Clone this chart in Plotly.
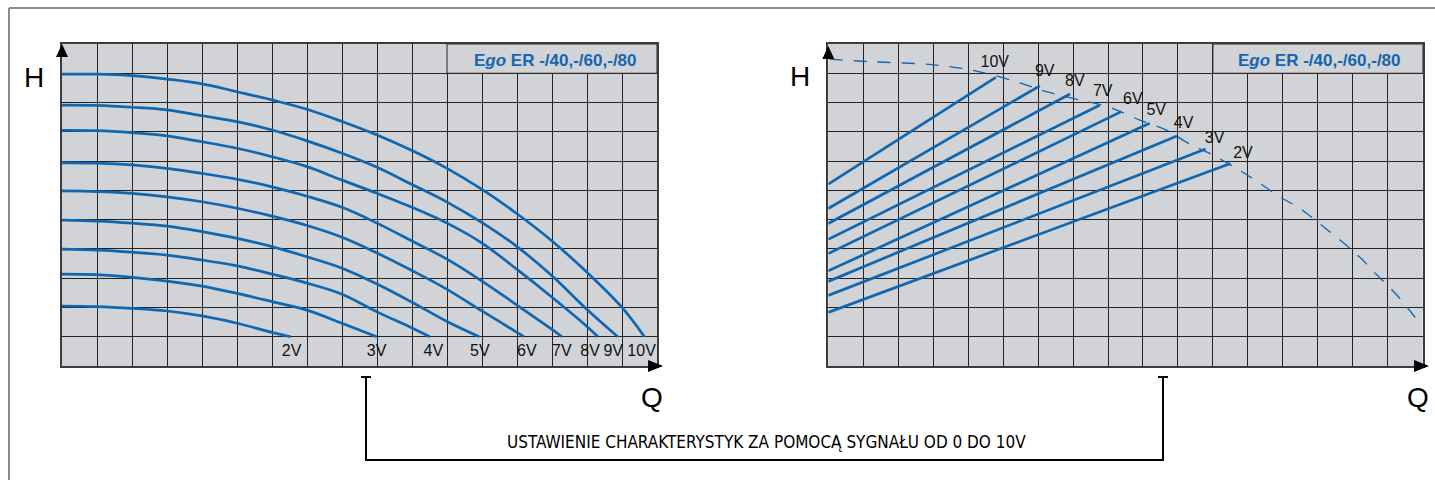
import plotly.graph_objects as go

W, H = 1435, 480

# ---------------- data (grid units: Q 0..17, H 0..11) ----------------
volt_labels = ["2V", "3V", "4V", "5V", "6V", "7V", "8V", "9V", "10V"]

# left panel: pump curves for each control voltage
left_q = {
    "2V": [0, 1, 2, 3, 4, 5, 6, 6.54],
    "3V": [0, 1, 2, 3, 4, 5, 6, 7, 8, 8.99],
    "4V": [0, 1, 2, 3, 4, 5, 6, 7, 8, 9, 10, 10.51],
    "5V": [0, 1, 2, 3, 4, 5, 6, 7, 8, 9, 10, 11, 11.92],
    "6V": [0, 1, 2, 3, 4, 5, 6, 7, 8, 9, 10, 11, 12, 13, 13.2],
    "7V": [0, 1, 2, 3, 4, 5, 6, 7, 8, 9, 10, 11, 12, 13, 14, 14.28],
    "8V": [0, 1, 2, 3, 4, 5, 6, 7, 8, 9, 10, 11, 12, 13, 14, 15, 15.31],
    "9V": [0, 1, 2, 3, 4, 5, 6, 7, 8, 9, 10, 11, 12, 13, 14, 15, 15.88],
    "10V": [0, 1, 2, 3, 4, 5, 6, 7, 8, 9, 10, 11, 12, 13, 14, 15, 16, 16.64],
}
left_h = {
    "2V": [2.05, 2.03, 1.97, 1.88, 1.71, 1.46, 1.15, 1.0],
    "3V": [3.14, 3.12, 3.03, 2.90, 2.73, 2.48, 2.20, 1.91, 1.46, 1.0],
    "4V": [3.99, 3.96, 3.89, 3.79, 3.62, 3.42, 3.14, 2.83, 2.45, 1.85, 1.30, 1.0],
    "5V": [4.98, 4.95, 4.88, 4.78, 4.59, 4.36, 4.08, 3.73, 3.34, 2.80, 2.18, 1.52, 1.0],
    "6V": [5.98, 5.96, 5.90, 5.78, 5.61, 5.39, 5.12, 4.80, 4.40, 3.86, 3.26, 2.62, 1.88, 1.15, 1.0],
    "7V": [6.94, 6.93, 6.87, 6.75, 6.58, 6.38, 6.12, 5.80, 5.42, 4.88, 4.27, 3.65, 2.90, 2.08, 1.25, 1.0],
    "8V": [8.05, 8.04, 7.97, 7.86, 7.66, 7.44, 7.15, 6.81, 6.35, 5.90, 5.42, 4.88, 4.20, 3.30, 2.35, 1.35, 1.0],
    "9V": [8.91, 8.90, 8.84, 8.75, 8.55, 8.35, 8.06, 7.69, 7.27, 6.79, 6.20, 5.60, 4.90, 4.08, 3.08, 1.93, 1.0],
    "10V": [9.97, 9.97, 9.92, 9.80, 9.64, 9.37, 9.09, 8.77, 8.35, 7.89, 7.36, 6.75, 6.03, 5.20, 4.27, 3.20, 2.00, 1.0],
}
left_label_q = [6.56, 8.99, 10.61, 11.94, 13.28, 14.28, 15.09, 15.75, 16.56]
left_label_h = 0.48

# right panel: straight control lines
right_start_h = [1.83, 2.41, 2.89, 3.25, 3.84, 4.33, 4.87, 5.38, 6.21]
right_end_q = [11.50, 10.79, 9.97, 9.19, 8.38, 7.76, 6.91, 6.05, 4.79]
right_end_h = [6.92, 7.41, 7.86, 8.29, 8.69, 8.91, 9.29, 9.57, 9.86]
right_label_q = [11.86, 11.05, 10.16, 9.38, 8.71, 7.85, 7.05, 6.19, 4.76]
right_label_h = [7.24, 7.74, 8.26, 8.71, 9.09, 9.37, 9.71, 10.05, 10.34]

# right panel: dashed maximum curve
max_q = [0.04, 1.13, 3.10, 4.33, 5.48, 6.24, 7.19, 7.99, 8.91, 9.67, 10.28, 10.99,
         11.76, 12.33, 12.91, 13.48, 13.99, 14.62, 15.19, 15.70, 16.24, 16.83]
max_h = [10.48, 10.40, 10.28, 10.05, 9.67, 9.37, 9.09, 8.86, 8.40, 8.06, 7.62, 7.21,
         6.69, 6.25, 5.78, 5.39, 4.92, 4.32, 3.73, 3.10, 2.45, 1.59]

panel_title = "E<i>go</i> ER -/40,-/60,-/80"
bottom_text = "USTAWIENIE CHARAKTERYSTYK ZA POMOCĄ SYGNAŁU OD 0 DO 10V"

# ---------------- styling ----------------
BLUE = "#0f67b1"
BG = "#d1d3d6"
GRID = "#222222"
FONT = "Liberation Sans, Arial, sans-serif"


def px(x):
    return x / W


def py(y):
    return 1 - y / H


fig = go.Figure()

for v in volt_labels:
    fig.add_trace(go.Scatter(x=left_q[v], y=left_h[v], mode="lines",
                             line=dict(color=BLUE, width=2.7, shape="spline", smoothing=1.0),
                             xaxis="x", yaxis="y", hoverinfo="skip", showlegend=False))
fig.add_trace(go.Scatter(x=left_label_q, y=[left_label_h] * len(left_label_q), mode="text",
                         text=volt_labels, textfont=dict(family=FONT, size=16, color="#111"),
                         xaxis="x", yaxis="y", hoverinfo="skip", showlegend=False))

fig.add_trace(go.Scatter(x=max_q, y=max_h, mode="lines",
                         line=dict(color=BLUE, width=1.3, dash="13px,11px", shape="spline"),
                         xaxis="x2", yaxis="y2", hoverinfo="skip", showlegend=False))
for i, v in enumerate(volt_labels):
    fig.add_trace(go.Scatter(x=[0, right_end_q[i]], y=[right_start_h[i], right_end_h[i]],
                             mode="lines", line=dict(color=BLUE, width=2.7),
                             xaxis="x2", yaxis="y2", hoverinfo="skip", showlegend=False))
fig.add_trace(go.Scatter(x=right_label_q, y=right_label_h, mode="text",
                         text=volt_labels, textfont=dict(family=FONT, size=16, color="#111"),
                         xaxis="x2", yaxis="y2", hoverinfo="skip", showlegend=False))

axis_common = dict(range=[0, 17], dtick=1, tick0=0, showgrid=True, gridcolor=GRID, gridwidth=1,
                   showticklabels=False, ticks="", zeroline=False, showline=True,
                   linecolor="#3c3c3c", linewidth=2, mirror=True, fixedrange=True)
yaxis_common = dict(axis_common, range=[0, 11])

left_dom = [px(62), px(657)]
right_dom = [px(828.3), px(1422.7)]
ydom = [py(366), py(44)]

fig.update_layout(
    width=W, height=H, margin=dict(l=0, r=0, t=0, b=0),
    paper_bgcolor="white", plot_bgcolor=BG, showlegend=False,
    xaxis=dict(axis_common, domain=left_dom, anchor="y"),
    yaxis=dict(yaxis_common, domain=ydom, anchor="x"),
    xaxis2=dict(axis_common, domain=right_dom, anchor="y2"),
    yaxis2=dict(yaxis_common, domain=ydom, anchor="x2"),
)

shapes = []
# title boxes (cover grid in top row)
for xr, yr in (("x", "y"), ("x2", "y2")):
    shapes.append(dict(type="rect", xref=xr, yref=yr, x0=11, x1=17, y0=10, y1=11,
                       fillcolor=BG, line=dict(color=GRID, width=1), layer="between"))

# axis arrows
def up_arrow(xc, ytip):
    return dict(type="path", xref="paper", yref="paper",
                path=f"M {px(xc-6)} {py(ytip+13)} L {px(xc+6)} {py(ytip+13)} L {px(xc)} {py(ytip)} Z",
                fillcolor="black", line=dict(width=0))


def right_arrow(xtip, yc):
    return dict(type="path", xref="paper", yref="paper",
                path=f"M {px(xtip-15)} {py(yc-6)} L {px(xtip-15)} {py(yc+6)} L {px(xtip)} {py(yc)} Z",
                fillcolor="black", line=dict(width=0))


shapes += [up_arrow(62, 44), up_arrow(828.3, 46),
           right_arrow(663, 366), right_arrow(1429, 366)]

# bracket
bk = dict(color="black", width=2)
for x0, y0, x1, y1 in [(366, 377, 366, 460), (1163, 377, 1163, 460), (365, 460, 1164, 460),
                       (361, 377, 371, 377), (1158, 377, 1168, 377)]:
    shapes.append(dict(type="line", xref="paper", yref="paper",
                       x0=px(x0), y0=py(y0), x1=px(x1), y1=py(y1), line=bk))

# outer frame
for x0, y0, x1, y1 in [(9, 8, 9, 480), (9, 8, 1435, 8)]:
    shapes.append(dict(type="line", xref="paper", yref="paper",
                       x0=px(x0), y0=py(y0), x1=px(x1), y1=py(y1),
                       line=dict(color="#8c8c8c", width=2)))

fig.update_layout(shapes=shapes)

ann = []
for xc, yc in ((555, 60.5), (1319.5, 60.5)):
    ann.append(dict(x=px(xc), y=py(yc), xref="paper", yref="paper", text=f"<b>{panel_title}</b>",
                    showarrow=False, font=dict(family=FONT, size=17, color="#1565b0"),
                    xanchor="center", yanchor="middle"))
for txt, xc, yc in (("H", 34, 77), ("H", 800, 76), ("Q", 652, 397), ("Q", 1418, 397)):
    ann.append(dict(x=px(xc), y=py(yc), xref="paper", yref="paper", text=txt, showarrow=False,
                    font=dict(family=FONT, size=28, color="black"),
                    xanchor="center", yanchor="middle"))
ann.append(dict(x=px(766), y=py(442), xref="paper", yref="paper", text=bottom_text,
                showarrow=False,
                font=dict(family="Liberation Sans Narrow, DejaVu Sans Condensed, Roboto Condensed, Arial Narrow, sans-serif",
                          size=17, color="black"),
                xanchor="center", yanchor="middle"))
fig.update_layout(annotations=ann)

fig.write_html("out.html")
